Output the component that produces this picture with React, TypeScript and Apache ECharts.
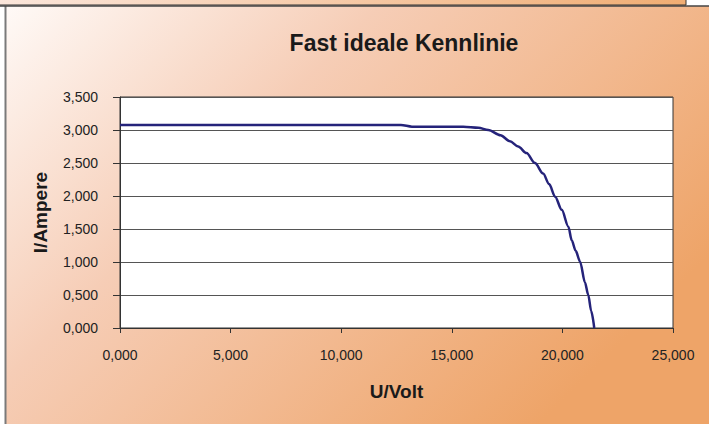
import React, { useEffect, useRef } from "react";
import * as echarts from "echarts";

const titleText = "Fast ideale Kennlinie";
const xName = "U/Volt";
const yName = "I/Ampere";

// Voltage (V) and current (A)
const voltage = [0, 2.0, 4.4, 6.8, 9.0, 11.0, 12.7, 13.2, 15.52, 16.2, 16.65, 17.2, 17.63, 18.0, 18.38, 18.76, 19.13, 19.4, 19.67, 19.97, 20.27, 20.42, 20.6, 20.8, 21.02, 21.17, 21.3, 21.44];
const current = [3.076, 3.076, 3.076, 3.076, 3.076, 3.076, 3.076, 3.05, 3.05, 3.035, 3.0, 2.92, 2.83, 2.75, 2.65, 2.50, 2.34, 2.18, 1.99, 1.79, 1.535, 1.33, 1.17, 1.005, 0.69, 0.5, 0.26, 0];

const xMin = 0, xMax = 25, xStep = 5;
const yMin = 0, yMax = 3.5, yStep = 0.5;

const fmt = (v: number) => v.toFixed(3).replace(".", ",");
const FONT = "'Liberation Sans', Arial, Helvetica, sans-serif";

export default function App() {
  const ref = useRef<HTMLDivElement>(null);
  useEffect(() => {
    if (!ref.current) return;
    const chart = echarts.init(ref.current, undefined, { renderer: "svg" });
    const data = voltage.map((u, i) => [u, current[i]]);
    chart.setOption({
      animation: false,
      backgroundColor: {
        type: "linear", x: 0, y: 0, x2: 1, y2: 0.6,
        colorStops: [
          { offset: 0, color: "#FFFBF9" },
          { offset: 0.4, color: "#F6CDB6" },
          { offset: 1, color: "#EEA468" },
        ],
      },
      textStyle: { fontFamily: FONT },
      title: {
        text: titleText,
        left: 399,
        top: 26,
        textAlign: "center",
        textStyle: { fontFamily: FONT, fontSize: 23, fontWeight: "bold", color: "#1a1a1a" },
      },
      grid: {
        left: 120, right: 36, top: 97, bottom: 96,
        show: true, backgroundColor: "#ffffff", borderColor: "#333", borderWidth: 1,
      },
      xAxis: {
        type: "value", min: xMin, max: xMax, interval: xStep,
        name: xName, nameLocation: "middle", nameGap: 54,
        nameTextStyle: { fontFamily: FONT, fontSize: 19, fontWeight: "bold", color: "#1a1a1a" },
        axisLine: { show: true, lineStyle: { color: "#333", width: 1 } },
        axisTick: { show: true, length: 5, lineStyle: { color: "#333" } },
        axisLabel: { formatter: fmt, fontSize: 14, color: "#222", margin: 20, fontFamily: FONT },
        splitLine: { show: false },
      },
      yAxis: {
        type: "value", min: yMin, max: yMax, interval: yStep,
        name: yName, nameLocation: "middle", nameGap: 70, nameRotate: 90,
        nameTextStyle: { fontFamily: FONT, fontSize: 19, fontWeight: "bold", color: "#1a1a1a" },
        axisLine: { show: true, lineStyle: { color: "#333", width: 1 } },
        axisTick: { show: true, length: 7, lineStyle: { color: "#333" } },
        axisLabel: { formatter: fmt, fontSize: 14, color: "#222", margin: 22, fontFamily: FONT },
        splitLine: { show: true, lineStyle: { color: "#555", width: 1 } },
      },
      graphic: [
        { type: "rect", shape: { x: 0, y: 0, width: 5, height: 424 }, style: { fill: "#ffffff" }, silent: true },
        { type: "line", shape: { x1: 5.5, y1: 6, x2: 5.5, y2: 424 }, style: { stroke: "#7a7a7a", lineWidth: 2 }, silent: true },
        { type: "rect", shape: { x: 686, y: 0, width: 23, height: 6 }, style: { fill: "#ffffff" }, silent: true },
        {
          type: "rect", shape: { x: -1, y: -1, width: 687, height: 6 },
          style: {
            fill: { type: "linear", x: 0, y: 0, x2: 1, y2: 0, colorStops: [{ offset: 0, color: "#FBE6DB" }, { offset: 1, color: "#F0AD73" }] },
            stroke: "#333", lineWidth: 1,
          },
          silent: true,
        },
        { type: "line", shape: { x1: 0, y1: 6, x2: 709, y2: 6 }, style: { stroke: "#444", lineWidth: 1.5 }, silent: true },
      ],
      series: [
        {
          type: "line",
          data,
          showSymbol: false,
          symbol: "none",
          smooth: 0.3,
          smoothMonotone: "x",
          lineStyle: { color: "#25237A", width: 2.5 },
        },
      ],
    });
    return () => chart.dispose();
  }, []);
  return <div ref={ref} style={{ position: "fixed", left: 0, top: 0, width: 709, height: 424 }} />;
}
